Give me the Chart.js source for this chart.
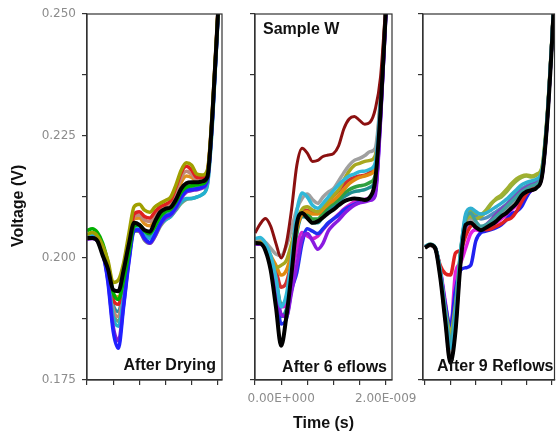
<!DOCTYPE html>
<html>
<head>
<meta charset="utf-8">
<script src="https://cdn.jsdelivr.net/npm/chart.js@4.4.1/dist/chart.umd.min.js"></script>
<style>
  body { margin: 0; background: #fff; }
  #wrap { position: relative; width: 559px; height: 441px; }
  #wrap canvas { position: absolute; left: 0; top: 0; }
</style>
</head>
<body>
<div id="wrap">
  <canvas id="p1" width="559" height="441"></canvas>
  <canvas id="p2" width="559" height="441"></canvas>
  <canvas id="p3" width="559" height="441"></canvas>
</div>
<script>
// time axis (s), shared by every trace
const times = [-5e-10, -4e-10, -3e-10, -2e-10, -1e-10, 0, 1e-10, 2e-10, 3e-10, 4e-10, 5e-10, 6e-10, 7e-10, 8e-10, 9e-10,
  1.0e-9, 1.1e-9, 1.2e-9, 1.3e-9, 1.4e-9, 1.5e-9, 1.6e-9, 1.7e-9, 1.8e-9, 1.9e-9, 2.0e-9, 2.1e-9];

const yTicks = [0.175, 0.1875, 0.200, 0.2125, 0.225, 0.2375, 0.250];
const yTickLabels = ['0.175', '', '0.200', '', '0.225', '', '0.250'];
const xTicks = [-5e-10, 0, 5e-10, 1e-9, 1.5e-9, 2e-9];
const xTickLabels = ['', '0.00E+000', '', '', '', '2.00E-009'];

const traceColors = ['#a0a000', '#00b000', '#2020ff', '#8020d0', '#20b0d0', '#e02020', '#c08878', '#70a080', '#3090a0', '#e09020'];

// After Drying
const dryMean = [0.2041,0.2041,0.2035,0.2005,0.1978,0.1935,0.1932,0.1975,0.2028,0.2072,0.2068,0.2057,0.2054,0.2075,0.2094,0.2101,0.2104,0.2120,0.2142,0.2153,0.2155,0.2155,0.2157,0.2166,0.2300,0.2495,0.2700];
const dryTraces = [
  [0.2048,0.2052,0.2045,0.2025,0.1995,0.1950,0.1955,0.1990,0.2050,0.2105,0.2110,0.2098,0.2094,0.2105,0.2112,0.2118,0.2125,0.2150,0.2180,0.2195,0.2190,0.2172,0.2170,0.2180,0.2310,0.2500,0.2700],
  [0.2056,0.2060,0.2052,0.2030,0.1990,0.1930,0.1915,0.1955,0.2010,0.2065,0.2068,0.2055,0.2050,0.2065,0.2085,0.2095,0.2100,0.2115,0.2135,0.2145,0.2148,0.2150,0.2152,0.2165,0.2300,0.2495,0.2700],
  [0.2040,0.2042,0.2036,0.2010,0.1950,0.1850,0.1815,0.1900,0.1990,0.2055,0.2058,0.2040,0.2032,0.2048,0.2070,0.2085,0.2090,0.2105,0.2125,0.2138,0.2140,0.2142,0.2145,0.2160,0.2290,0.2490,0.2700],
  [0.2038,0.2040,0.2035,0.2010,0.1955,0.1860,0.1830,0.1905,0.1995,0.2058,0.2055,0.2038,0.2030,0.2045,0.2068,0.2082,0.2088,0.2102,0.2122,0.2135,0.2138,0.2140,0.2143,0.2158,0.2290,0.2490,0.2700],
  [0.2045,0.2048,0.2040,0.2015,0.1965,0.1880,0.1860,0.1920,0.2000,0.2060,0.2062,0.2045,0.2040,0.2052,0.2070,0.2078,0.2085,0.2100,0.2115,0.2122,0.2122,0.2125,0.2130,0.2148,0.2280,0.2485,0.2700],
  [0.2042,0.2045,0.2040,0.2020,0.1980,0.1915,0.1905,0.1950,0.2025,0.2090,0.2095,0.2085,0.2082,0.2095,0.2105,0.2110,0.2118,0.2145,0.2175,0.2188,0.2180,0.2165,0.2165,0.2175,0.2305,0.2500,0.2700],
  [0.2044,0.2046,0.2040,0.2018,0.1975,0.1895,0.1880,0.1935,0.2015,0.2085,0.2088,0.2078,0.2075,0.2088,0.2100,0.2105,0.2110,0.2135,0.2165,0.2178,0.2172,0.2160,0.2160,0.2172,0.2305,0.2500,0.2700],
  [0.2040,0.2042,0.2036,0.2012,0.1968,0.1890,0.1870,0.1925,0.2005,0.2055,0.2055,0.2036,0.2030,0.2044,0.2065,0.2078,0.2085,0.2098,0.2112,0.2120,0.2122,0.2125,0.2130,0.2150,0.2285,0.2490,0.2700],
  [0.2043,0.2045,0.2038,0.2016,0.1972,0.1905,0.1890,0.1940,0.2010,0.2062,0.2064,0.2050,0.2046,0.2060,0.2078,0.2088,0.2094,0.2110,0.2130,0.2140,0.2142,0.2144,0.2148,0.2160,0.2295,0.2495,0.2700],
  [0.2046,0.2049,0.2042,0.2022,0.1985,0.1925,0.1920,0.1960,0.2030,0.2080,0.2082,0.2070,0.2066,0.2080,0.2095,0.2102,0.2108,0.2128,0.2155,0.2168,0.2165,0.2158,0.2158,0.2170,0.2300,0.2498,0.2700]
];

// After 6 reflows
const reflow6Mean = [0.2031,0.2030,0.2015,0.1975,0.1900,0.1820,0.1880,0.1970,0.2070,0.2092,0.2082,0.2072,0.2075,0.2083,0.2092,0.2099,0.2108,0.2116,0.2120,0.2122,0.2121,0.2119,0.2125,0.2160,0.2300,0.2500,0.2700];
const reflow6Outlier = [0.2051,0.2070,0.2081,0.2065,0.2030,0.2000,0.2030,0.2100,0.2190,0.2225,0.2215,0.2198,0.2200,0.2208,0.2211,0.2214,0.2230,0.2265,0.2285,0.2290,0.2282,0.2274,0.2278,0.2305,0.2370,0.2520,0.2700];
const reflow6Colors = ['#30b8d8', '#a0a0a0', '#a8a820', '#8a1ae0', '#2030f0', '#d020d0', '#e08a10', '#30a040', '#d03030', '#209090'];
const reflow6Traces = [
  [0.2040,0.2042,0.2030,0.2005,0.1960,0.1900,0.1925,0.2000,0.2095,0.2133,0.2125,0.2108,0.2102,0.2112,0.2125,0.2138,0.2150,0.2160,0.2168,0.2172,0.2177,0.2178,0.2182,0.2195,0.2320,0.2510,0.2700],
  [0.2038,0.2040,0.2032,0.2020,0.2008,0.2005,0.2025,0.2060,0.2100,0.2122,0.2131,0.2120,0.2112,0.2125,0.2135,0.2142,0.2158,0.2175,0.2190,0.2200,0.2204,0.2210,0.2218,0.2225,0.2330,0.2515,0.2700],
  [0.2035,0.2036,0.2025,0.2000,0.1980,0.1985,0.1995,0.2030,0.2075,0.2100,0.2105,0.2098,0.2095,0.2105,0.2118,0.2128,0.2140,0.2160,0.2178,0.2190,0.2194,0.2198,0.2200,0.2210,0.2325,0.2512,0.2700],
  [0.2028,0.2028,0.2018,0.1990,0.1945,0.1885,0.1880,0.1930,0.1985,0.2040,0.2050,0.2035,0.2018,0.2030,0.2055,0.2068,0.2078,0.2090,0.2100,0.2108,0.2113,0.2115,0.2118,0.2128,0.2280,0.2495,0.2700],
  [0.2030,0.2030,0.2020,0.1985,0.1930,0.1865,0.1875,0.1935,0.1970,0.2030,0.2060,0.2055,0.2050,0.2060,0.2072,0.2080,0.2088,0.2098,0.2105,0.2110,0.2114,0.2118,0.2122,0.2135,0.2285,0.2495,0.2700],
  [0.2032,0.2032,0.2020,0.1992,0.1950,0.1900,0.1905,0.1960,0.2020,0.2052,0.2045,0.2040,0.2045,0.2058,0.2070,0.2080,0.2090,0.2100,0.2108,0.2115,0.2118,0.2120,0.2124,0.2138,0.2290,0.2498,0.2700],
  [0.2036,0.2038,0.2028,0.2005,0.1985,0.1965,0.1975,0.2010,0.2060,0.2090,0.2095,0.2090,0.2090,0.2100,0.2110,0.2118,0.2128,0.2140,0.2152,0.2160,0.2165,0.2168,0.2172,0.2185,0.2310,0.2505,0.2700],
  [0.2034,0.2035,0.2024,0.1995,0.1955,0.1905,0.1915,0.1975,0.2055,0.2090,0.2090,0.2080,0.2080,0.2092,0.2105,0.2112,0.2120,0.2132,0.2140,0.2145,0.2148,0.2150,0.2155,0.2170,0.2305,0.2502,0.2700],
  [0.2037,0.2039,0.2028,0.2002,0.1975,0.1940,0.1950,0.1995,0.2065,0.2095,0.2098,0.2092,0.2092,0.2105,0.2118,0.2128,0.2138,0.2150,0.2160,0.2165,0.2168,0.2170,0.2175,0.2188,0.2315,0.2508,0.2700],
  [0.2033,0.2034,0.2022,0.1990,0.1940,0.1880,0.1895,0.1960,0.2050,0.2085,0.2082,0.2072,0.2072,0.2085,0.2098,0.2106,0.2115,0.2125,0.2132,0.2136,0.2138,0.2140,0.2145,0.2160,0.2300,0.2500,0.2700]
];

// After 9 reflows
const reflow9Mean = [0.2021,0.2027,0.2020,0.1960,0.1870,0.1785,0.1850,0.1990,0.2068,0.2072,0.2063,0.2057,0.2062,0.2068,0.2075,0.2085,0.2092,0.2102,0.2112,0.2128,0.2136,0.2139,0.2144,0.2165,0.2270,0.2440,0.2650];
const reflow9Colors = ['#30b0d0', '#40a0a0', '#a0b030', '#e02020', '#2020f0', '#e020e0', '#9a9a9a', '#8040c0', '#90b040', '#5090c0'];
const reflow9Traces = [
  [0.2024,0.2028,0.2022,0.1975,0.1885,0.1815,0.1880,0.2010,0.2090,0.2102,0.2095,0.2090,0.2092,0.2098,0.2105,0.2112,0.2120,0.2130,0.2140,0.2150,0.2155,0.2158,0.2162,0.2178,0.2280,0.2450,0.2650],
  [0.2023,0.2027,0.2021,0.1970,0.1890,0.1830,0.1895,0.2015,0.2080,0.2092,0.2075,0.2065,0.2068,0.2075,0.2085,0.2095,0.2105,0.2115,0.2125,0.2135,0.2142,0.2148,0.2152,0.2170,0.2275,0.2448,0.2650],
  [0.2022,0.2026,0.2020,0.1972,0.1895,0.1850,0.1905,0.2010,0.2075,0.2085,0.2080,0.2085,0.2095,0.2110,0.2122,0.2129,0.2140,0.2152,0.2162,0.2168,0.2170,0.2168,0.2172,0.2185,0.2285,0.2452,0.2650],
  [0.2022,0.2026,0.2020,0.1985,0.1968,0.1965,0.2010,0.2016,0.2045,0.2065,0.2068,0.2060,0.2058,0.2060,0.2065,0.2070,0.2078,0.2082,0.2095,0.2115,0.2132,0.2142,0.2150,0.2170,0.2275,0.2448,0.2650],
  [0.2022,0.2026,0.2020,0.1975,0.1905,0.1860,0.1935,0.1975,0.1980,0.1985,0.2035,0.2052,0.2055,0.2058,0.2062,0.2068,0.2078,0.2090,0.2095,0.2105,0.2125,0.2140,0.2148,0.2168,0.2272,0.2445,0.2650],
  [0.2023,0.2027,0.2021,0.1978,0.1910,0.1850,0.1970,0.1990,0.2020,0.2050,0.2058,0.2055,0.2060,0.2065,0.2072,0.2080,0.2088,0.2098,0.2108,0.2120,0.2130,0.2138,0.2145,0.2165,0.2272,0.2446,0.2650],
  [0.2023,0.2027,0.2021,0.1968,0.1880,0.1800,0.1865,0.2000,0.2070,0.2080,0.2068,0.2060,0.2066,0.2074,0.2082,0.2092,0.2100,0.2112,0.2122,0.2132,0.2140,0.2145,0.2150,0.2168,0.2275,0.2446,0.2650],
  [0.2022,0.2026,0.2020,0.1965,0.1875,0.1790,0.1858,0.1995,0.2062,0.2070,0.2062,0.2060,0.2068,0.2078,0.2090,0.2100,0.2108,0.2118,0.2128,0.2138,0.2145,0.2150,0.2155,0.2172,0.2278,0.2448,0.2650],
  [0.2024,0.2028,0.2022,0.1974,0.1892,0.1840,0.1900,0.2012,0.2078,0.2095,0.2092,0.2090,0.2098,0.2112,0.2120,0.2125,0.2135,0.2148,0.2158,0.2165,0.2168,0.2166,0.2170,0.2182,0.2282,0.2450,0.2650],
  [0.2023,0.2027,0.2021,0.1970,0.1885,0.1820,0.1885,0.2008,0.2085,0.2098,0.2088,0.2080,0.2082,0.2088,0.2095,0.2102,0.2110,0.2122,0.2132,0.2142,0.2148,0.2152,0.2156,0.2174,0.2278,0.2448,0.2650]
];

Chart.defaults.font.family = '"DejaVu Sans", sans-serif';
Chart.defaults.animation = false;

const framePlugin = {
    id: 'frame',
    afterDatasetsDraw(chart, args, opts) {
        const ctx = chart.ctx;
        const a = chart.chartArea;
        ctx.save();
        ctx.strokeStyle = '#333';
        ctx.lineWidth = 1.2;
        ctx.strokeRect(a.left, a.top, a.right - a.left, a.bottom - a.top);
        ctx.font = 'bold 16px "Liberation Sans", Arial, sans-serif';
        ctx.fillStyle = '#111';
        ctx.textBaseline = 'alphabetic';
        for (const l of opts.labels || []) {
            ctx.textAlign = l.align;
            const x = l.align === 'left' ? a.left + l.dx : a.right - l.dx;
            const y = l.dy >= 0 ? a.top + l.dy : a.bottom + l.dy;
            ctx.fillText(l.text, x, y);
        }
        ctx.restore();
    }
};

function points(values) {
    return times.map((t, i) => ({ x: t, y: values[i] }));
}

function line(values, color, width) {
    return {
        data: points(values),
        borderColor: color,
        borderWidth: width,
        pointRadius: 0,
        fill: false,
        cubicInterpolationMode: 'monotone'
    };
}

function makePanel(id, cfg) {
    const datasets = [line(cfg.mean, '#000', 4)];
    if (cfg.outlier) datasets.push(line(cfg.outlier, '#8b1010', 3));
    cfg.traces.forEach((tr, i) => datasets.push(line(tr, cfg.colors[i], 3.5)));

    return new Chart(document.getElementById(id), {
        type: 'line',
        data: { datasets: datasets },
        plugins: [framePlugin],
        options: {
            responsive: false,
            events: [],
            layout: { padding: { left: cfg.left - cfg.yWidth, right: 559 - cfg.right, top: 14, bottom: 0 } },
            plugins: {
                legend: { display: false },
                tooltip: { enabled: false },
                frame: { labels: cfg.labels }
            },
            scales: {
                x: {
                    type: 'linear',
                    min: cfg.xMin,
                    max: cfg.xMax,
                    afterBuildTicks: s => { s.ticks = xTicks.map(v => ({ value: v })); },
                    afterFit: s => { s.height = 61; },
                    grid: { drawOnChartArea: false, color: '#333', lineWidth: 1.2, tickLength: 5 },
                    border: { color: '#333', width: 1.2 },
                    ticks: {
                        autoSkip: false,
                        maxRotation: 0,
                        padding: 7,
                        color: '#8c8c8c',
                        font: { size: 12 },
                        callback: (v, i) => cfg.xLabels ? xTickLabels[i] : ''
                    },
                    title: {
                        display: !!cfg.xTitle,
                        text: cfg.xTitle || '',
                        color: '#111',
                        font: { family: '"Liberation Sans", Arial, sans-serif', size: 16, weight: 'bold' },
                        padding: { top: 0, bottom: 8 }
                    }
                },
                y: {
                    min: 0.175,
                    max: 0.250,
                    afterBuildTicks: s => { s.ticks = yTicks.map(v => ({ value: v })); },
                    afterFit: s => { s.width = cfg.yWidth; },
                    grid: { drawOnChartArea: false, color: '#333', lineWidth: 1.2, tickLength: 5 },
                    border: { color: '#333', width: 1.2 },
                    ticks: {
                        padding: 6,
                        color: '#8c8c8c',
                        font: { size: 12 },
                        callback: (v, i) => cfg.yLabels ? yTickLabels[i] : ''
                    },
                    title: {
                        display: !!cfg.yTitle,
                        text: cfg.yTitle || '',
                        color: '#111',
                        font: { family: '"Liberation Sans", Arial, sans-serif', size: 16, weight: 'bold' },
                        padding: { top: 9, bottom: 0 }
                    }
                }
            }
        }
    });
}

makePanel('p1', {
    left: 87, right: 222, yWidth: 87, xMin: -5e-10, xMax: 2.08e-9,
    mean: dryMean, traces: dryTraces, colors: traceColors,
    yLabels: true, yTitle: 'Voltage (V)    ',
    labels: [{ text: 'After Drying', align: 'right', dx: 6, dy: -10 }]
});

makePanel('p2', {
    left: 255, right: 392, yWidth: 5, xMin: -5e-10, xMax: 2.12e-9,
    mean: reflow6Mean, outlier: reflow6Outlier, traces: reflow6Traces, colors: reflow6Colors,
    xLabels: true, xTitle: 'Time (s)',
    labels: [
        { text: 'Sample W', align: 'left', dx: 8, dy: 20 },
        { text: 'After 6 eflows', align: 'right', dx: 5, dy: -8 }
    ]
});

makePanel('p3', {
    left: 423, right: 557, yWidth: 5, xMin: -5.4e-10, xMax: 2.05e-9,
    mean: reflow9Mean, traces: reflow9Traces, colors: reflow9Colors,
    labels: [{ text: 'After 9 Reflows', align: 'right', dx: 1, dy: -9 }]
});
</script>
</body>
</html>
